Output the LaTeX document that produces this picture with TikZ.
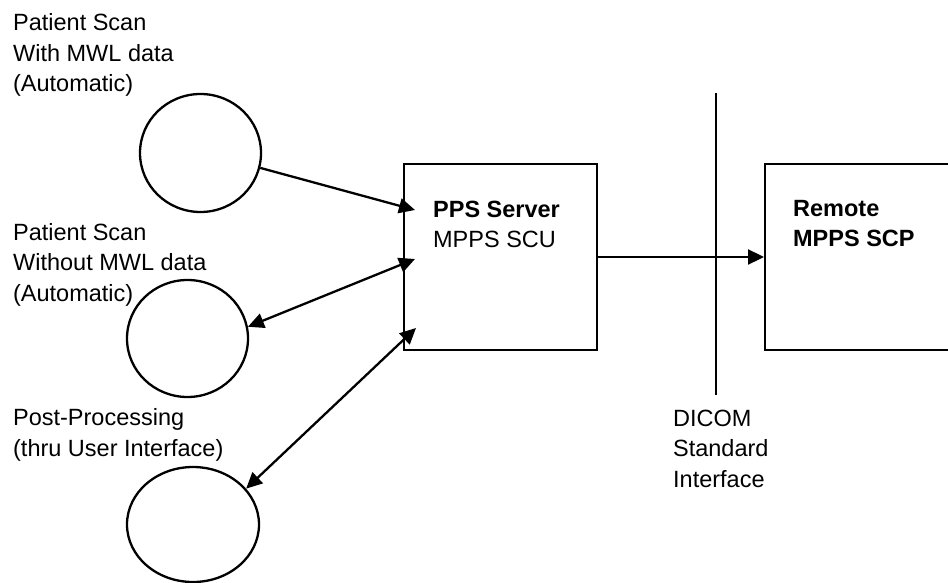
\documentclass[tikz,border=0pt]{standalone}
\usepackage{fontspec}
\setmainfont{Liberation Sans}
\usetikzlibrary{arrows.meta,shapes.geometric}
\begin{document}
\begin{tikzpicture}[x=1pt,y=-1pt,
  line width=2.3pt,
  lbl/.style={anchor=base west,inner sep=0pt,align=left,font=\fontsize{23.5}{30.5}\selectfont},
  ell/.style={draw,ellipse,inner sep=0pt},
  boxn/.style={draw,rectangle,inner sep=0pt},
  arr/.style={-{Triangle[length=16pt,width=15pt]}},
  darr/.style={{Triangle[length=16pt,width=15pt]}-{Triangle[length=16pt,width=15pt]}}]
\clip (0,0) rectangle (948,583);
\useasboundingbox (0,0) rectangle (948,583);
% labels (anchored at the baseline of their last line)
\node[lbl] (t1) at (12,92) {Patient Scan\\With MWL data\\(Automatic)};
\node[lbl] (t2) at (12,301) {Patient Scan\\Without MWL data\\(Automatic)};
\node[lbl] (t3) at (12,456) {Post-Processing\\(thru User Interface)};
\node[lbl] (t4) at (672,487) {DICOM\\Standard\\Interface};
% circles
\node[ell,minimum width=121pt,minimum height=118pt] (c1) at (200.5,153) {};
\node[ell,minimum width=121pt,minimum height=117pt] (c2) at (187.5,338.5) {};
\node[ell,minimum width=132pt,minimum height=115pt] (c3) at (193,524.5) {};
% boxes
\node[boxn,minimum width=193pt,minimum height=186pt] (pps) at (500.5,257) {};
\node[boxn,minimum width=200pt,minimum height=186pt,anchor=west] (rem) at (764,257) {};
\node[lbl,font=\fontsize{23.5}{30.5}\selectfont\bfseries] (ppst) at (432,217) {PPS Server};
\node[lbl] (ppss) at (432,247) {MPPS SCU};
\node[lbl,font=\fontsize{23.5}{30.5}\selectfont\bfseries] (remt) at (792,246.5) {Remote\\MPPS SCP};
% interface line
\coordinate (itop) at (716,93);
\coordinate (ibot) at (716,395);
\draw (itop) -- (ibot);
% connector end points inside the PPS box
\coordinate (p1) at (415,210);
\coordinate (p2) at (415,259);
\coordinate (p3) at (416,328);
\draw[arr] (c1.-14) -- (p1);
\draw[darr] (c2.11) -- (p2);
\draw[darr] (c3.34) -- (p3);
\draw[arr] (pps.east) -- (rem.west);
\end{tikzpicture}
\end{document}
